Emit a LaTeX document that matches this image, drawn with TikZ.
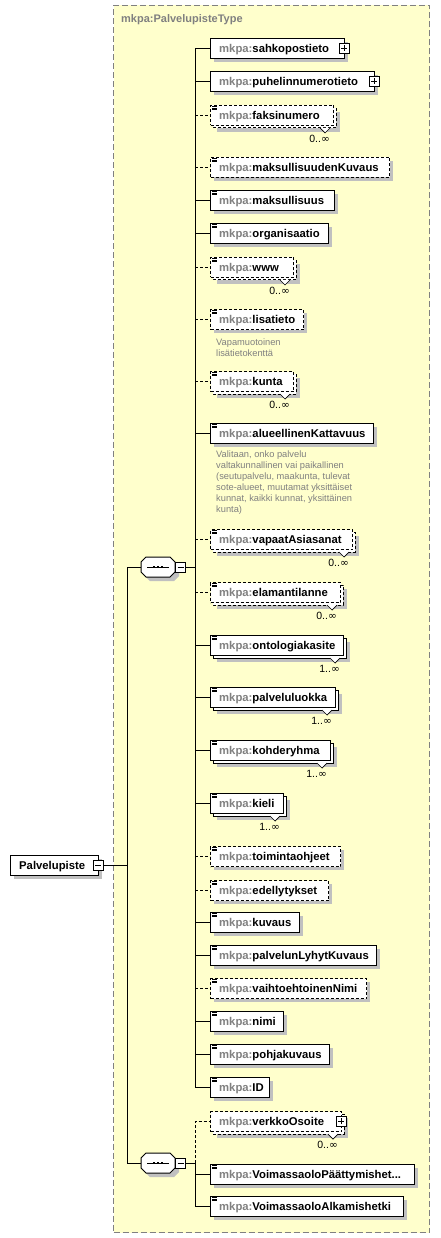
\documentclass[tikz,border=0pt]{standalone}
\usepackage{fontspec}
\setmainfont{Liberation Sans}
\newfontfamily\symfont{DejaVu Sans}
\definecolor{typefill}{RGB}{255,255,204}
\definecolor{typeborder}{RGB}{128,128,128}
\definecolor{pfx}{RGB}{128,128,128}
\definecolor{shadowc}{RGB}{192,192,192}
\definecolor{desccol}{RGB}{128,128,128}
\tikzset{
  bline/.style={line width=1pt, draw=black},
  elem/.style={bline, fill=white, minimum height=20pt, inner sep=0pt, anchor=north west},
  optb/.style={dash pattern=on 3pt off 2pt},
  reqb/.style={},
  eltext/.style={anchor=base west, inner sep=0pt, font=\fontsize{11.3}{13}\selectfont\bfseries},
  conn/.style={line width=1pt, draw=black},
  optconn/.style={conn, dash pattern=on 3pt off 2pt},
  mult/.style={anchor=east, inner sep=0pt, font=\fontsize{10.5}{12}\selectfont},
  descr/.style={anchor=north west, inner sep=0pt, align=left, text=desccol, font=\fontsize{9.3}{11}\selectfont},
  pmicon/.style={bline, line width=0.8pt, fill=white, minimum size=10pt, inner sep=0pt},
  seqbox/.style={inner sep=0pt, minimum width=34pt, minimum height=20pt},
}
\newcommand\infsym{{\symfont\fontsize{10.5}{12}\selectfont ∞}}
% #1 name, #2 top, #3 right, #4 label, #5 border, #6 multi, #7 doc icon, #8 multiplicity
\newcommand\elt[8]{%
  \ifnum#6=1
    \fill[shadowc] (217,#2+7) rectangle (#3+7,#2+27);
    \draw[bline,#5,fill=white] (213,#2+3) rectangle (#3+3,#2+23);
  \else
    \fill[shadowc] (214,#2+4) rectangle (#3+4,#2+24);
  \fi
  \node[elem,#5,minimum width={#3-210}] (#1) at (210,#2) {};
  \node[eltext] at ([shift={(9,4)}]#1.west) {\textcolor{pfx}{mkpa:}#4};
  \ifnum#7=1
    \draw[line width=0.6pt] (212,#2+1.5) -- ++(5,0) (212,#2+3) -- ++(5,0) (212,#2+4.5) -- ++(5,0);
  \fi
  \ifnum#6=1
    \fill[white] (#3-13,#2+23) -- (#3-8,#2+28) -- (#3-3,#2+23) -- cycle;
    \draw[line width=0.7pt] (#3-13,#2+23) -- (#3-8,#2+28) -- (#3-3,#2+23);
    \node[mult] at (#3-3,#2+34) {#8};
  \fi
}
\newcommand\plusicon[3]{% name, x, y
  \node[pmicon] (#1) at (#2,#3) {};
  \draw[line width=0.8pt] ([xshift=-3pt]#1.center) -- ([xshift=3pt]#1.center) ([yshift=-3pt]#1.center) -- ([yshift=3pt]#1.center);
}
\newcommand\minusicon[3]{% name, x, y
  \node[pmicon] (#1) at (#2,#3) {};
  \draw[line width=0.8pt] ([xshift=-3pt]#1.center) -- ([xshift=3pt]#1.center);
}
\newcommand\octpath[2]{(#1-17,#2-5) -- (#1-12,#2-10) -- (#1+12,#2-10) -- (#1+17,#2-5) -- (#1+17,#2+5) -- (#1+12,#2+10) -- (#1-12,#2+10) -- (#1-17,#2+5) -- cycle}
\newcommand\seqnode[3]{% name, cx, cy
  \fill[shadowc] \octpath{#2+4}{#3+4};
  \draw[bline, fill=white] \octpath{#2}{#3};
  \node[seqbox] (#1) at (#2,#3) {};
  \draw[line width=1pt] ([xshift=-11pt]#1.center) -- ([xshift=11pt]#1.center);
  \foreach \dx in {-4,0,4} \fill ([xshift=\dx pt]#1.center) +(-1.4pt,-1.4pt) rectangle +(1.4pt,1.4pt);
}
\begin{document}
\begin{tikzpicture}[x=1pt,y=-1pt]
\useasboundingbox (0,0) rectangle (440,1238);
\fill[white] (0,0) rectangle (440,1238);
% type box
\node[draw=typeborder, fill=typefill, line width=1pt, dash pattern=on 6pt off 3pt, minimum width=316pt, minimum height=1227pt, anchor=north west, inner sep=0pt] (typebox) at (113,5) {};
\node[anchor=base west, inner sep=0pt, text=pfx, font=\fontsize{11}{13}\selectfont\bfseries] (typelabel) at (121,22.5) {mkpa:PalvelupisteType};

\coordinate (v0) at (127,0);
\coordinate (v1) at (195,0);

% elements of first sequence
\elt{sahko}{38}{344}{sahkopostieto}{reqb}{0}{0}{}
\plusicon{sahkoP}{344}{48}
\elt{puhelin}{71}{374}{puhelinnumerotieto}{reqb}{0}{0}{}
\plusicon{puhelinP}{374}{81}
\elt{faksi}{105}{333}{faksinumero}{optb}{1}{1}{0..\infsym}
\elt{maksKuv}{157}{389}{maksullisuudenKuvaus}{optb}{0}{1}{}
\elt{maks}{190}{334}{maksullisuus}{reqb}{0}{1}{}
\elt{org}{223}{328}{organisaatio}{reqb}{0}{1}{}
\elt{www}{257}{293}{www}{optb}{1}{1}{0..\infsym}
\elt{lisa}{309}{303}{lisatieto}{optb}{0}{1}{}
\node[descr] (lisaD) at (216,338.5) {Vapamuotoinen\\lisätietokenttä};
\elt{kunta}{371}{293}{kunta}{optb}{1}{1}{0..\infsym}
\elt{alue}{423}{373}{alueellinenKattavuus}{reqb}{0}{1}{}
\node[descr] (alueD) at (216,451) {Valitaan, onko palvelu\\valtakunnallinen vai paikallinen\\(seutupalvelu, maakunta, tulevat\\sote-alueet, muutamat yksittäiset\\kunnat, kaikki kunnat, yksittäinen\\kunta)};
\elt{vapaat}{529}{352}{vapaatAsiasanat}{optb}{1}{1}{0..\infsym}
\elt{elaman}{582}{340}{elamantilanne}{optb}{1}{1}{0..\infsym}
\elt{onto}{635}{343}{ontologiakasite}{reqb}{1}{1}{1..\infsym}
\elt{luokka}{687}{335}{palveluluokka}{reqb}{1}{1}{1..\infsym}
\elt{kohde}{740}{330}{kohderyhma}{reqb}{1}{1}{1..\infsym}
\elt{kieli}{793}{283}{kieli}{reqb}{1}{1}{1..\infsym}
\elt{toim}{846}{340}{toimintaohjeet}{optb}{0}{1}{}
\elt{edel}{880}{328}{edellytykset}{optb}{0}{1}{}
\elt{kuvaus}{912}{299}{kuvaus}{reqb}{0}{1}{}
\elt{lyhyt}{945}{376}{palvelunLyhytKuvaus}{reqb}{0}{1}{}
\elt{vaiht}{978}{366}{vaihtoehtoinenNimi}{optb}{0}{1}{}
\elt{nimi}{1011}{283}{nimi}{reqb}{0}{1}{}
\elt{pohja}{1044}{329}{pohjakuvaus}{reqb}{0}{1}{}
\elt{id}{1077}{269}{ID}{reqb}{0}{1}{}
% elements of second sequence
\elt{verkko}{1111}{341}{verkkoOsoite}{optb}{1}{0}{0..\infsym}
\plusicon{verkkoP}{341}{1121}
\elt{paatt}{1164}{414}{VoimassaoloPäättymishet...}{reqb}{0}{1}{}
\elt{alku}{1196}{403}{VoimassaoloAlkamishetki}{reqb}{0}{1}{}

% root element
\fill[shadowc] (14,859) rectangle (102,879);
\node[elem, minimum width=88pt] (root) at (10,855) {};
\node[eltext] (rootT) at ([shift={(9,4)}]root.west) {Palvelupiste};
\minusicon{rootM}{98}{865}

% sequence compositors
\seqnode{seq1}{158}{567}
\minusicon{seq1M}{180.5}{567}
\seqnode{seq2}{158}{1163}
\minusicon{seq2M}{180.5}{1163}

% connectors
\draw[conn] (rootM.east) -- (rootM.east -| v0);
\draw[conn] (seq1.west -| v0) -- (seq2.west -| v0);
\draw[conn] (seq1.west -| v0) -- (seq1.west);
\draw[conn] (seq2.west -| v0) -- (seq2.west);
\draw[conn] (seq1M.east) -- (seq1M.east -| v1);
\draw[conn] (sahko.west -| v1) -- (id.west -| v1);
\foreach \n in {sahko,puhelin,maks,org,alue,onto,luokka,kohde,kieli,kuvaus,lyhyt,nimi,pohja,id}
  \draw[conn] (\n.west -| v1) -- (\n.west);
\foreach \n in {faksi,maksKuv,www,lisa,kunta,vapaat,elaman,toim,edel,vaiht}
  \draw[optconn] (\n.west -| v1) -- (\n.west);
\draw[conn] (seq2M.east) -- (seq2M.east -| v1);
\draw[optconn] (seq2M.east -| v1) -- (verkko.west -| v1) -- (verkko.west);
\draw[conn] (seq2M.east -| v1) -- (alku.west -| v1) -- (alku.west);
\draw[conn] (paatt.west -| v1) -- (paatt.west);
\end{tikzpicture}
\end{document}
